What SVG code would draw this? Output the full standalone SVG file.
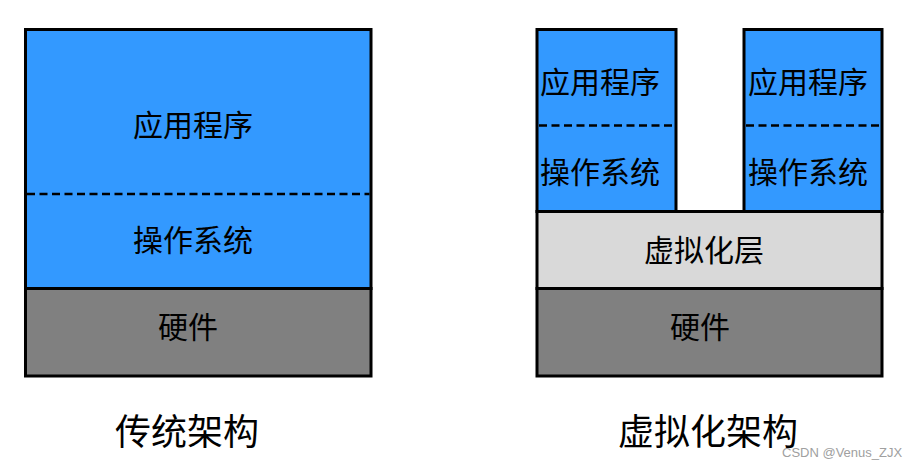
<svg xmlns="http://www.w3.org/2000/svg" width="922" height="468" viewBox="0 0 922 468">
<style>
.box{stroke:#000;stroke-width:3}
.blue{fill:#3399FF}
.hw{fill:#808080}
.virt{fill:#D9D9D9}
.dash{stroke:#000;stroke-width:2.5;stroke-dasharray:8 4.5;fill:none}
.t{font-family:"Noto Sans CJK SC","Noto Sans",sans-serif;font-size:30px;font-weight:400;fill:#000;text-anchor:middle}
.cap{font-family:"Noto Sans CJK SC","Noto Sans",sans-serif;font-size:36px;fill:#000;text-anchor:middle}
.wm{font-family:"Liberation Sans",Arial,sans-serif;font-size:13px;fill:#A0A0A0}
</style>
<rect width="922" height="468" fill="#fff"/>
<g id="traditional">
  <g id="trad-app-os">
    <rect class="box blue" x="25.5" y="29.5" width="345.5" height="259"/>
    <line class="dash" x1="27" y1="194" x2="369.5" y2="194"/>
    <text class="t" x="193" y="136">应用程序</text>
    <text class="t" x="193" y="251">操作系统</text>
  </g>
  <g id="trad-hw">
    <rect class="box hw" x="25.5" y="288.5" width="345.5" height="87.5"/>
    <text class="t" x="188" y="338">硬件</text>
  </g>
</g>
<g id="virtual">
  <g id="vm1">
    <rect class="box blue" x="537" y="29.5" width="139" height="182"/>
    <line class="dash" x1="539" y1="125.5" x2="674.5" y2="125.5"/>
    <text class="t" x="600" y="93">应用程序</text>
    <text class="t" x="600" y="183">操作系统</text>
  </g>
  <g id="vm2">
    <rect class="box blue" x="744" y="29.5" width="138" height="182"/>
    <line class="dash" x1="746" y1="125.5" x2="880.5" y2="125.5"/>
    <text class="t" x="808" y="93">应用程序</text>
    <text class="t" x="808" y="183">操作系统</text>
  </g>
  <g id="virt-layer">
    <rect class="box virt" x="537" y="211.5" width="345" height="77"/>
    <text class="t" x="704" y="261">虚拟化层</text>
  </g>
  <g id="virt-hw">
    <rect class="box hw" x="537" y="288.5" width="345" height="87.5"/>
    <text class="t" x="700" y="338">硬件</text>
  </g>
</g>
<g id="connectors"></g>
<text class="cap" x="187" y="445">传统架构</text>
<text class="cap" x="708" y="445">虚拟化架构</text>
<text class="wm" x="782" y="457">CSDN @Venus_ZJX</text>
</svg>
